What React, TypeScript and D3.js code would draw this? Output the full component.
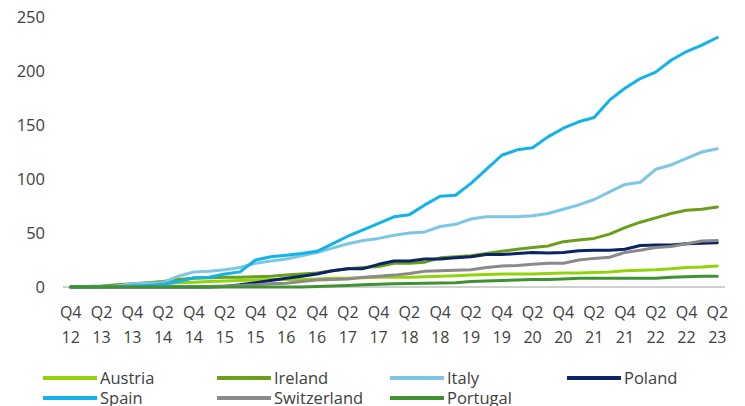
import React from "react";
import * as d3 from "d3";

const quarters = [
  "Q4 12","Q1 13","Q2 13","Q3 13","Q4 13","Q1 14","Q2 14","Q3 14","Q4 14","Q1 15","Q2 15",
  "Q3 15","Q4 15","Q1 16","Q2 16","Q3 16","Q4 16","Q1 17","Q2 17","Q3 17","Q4 17","Q1 18",
  "Q2 18","Q3 18","Q4 18","Q1 19","Q2 19","Q3 19","Q4 19","Q1 20","Q2 20","Q3 20","Q4 20",
  "Q1 21","Q2 21","Q3 21","Q4 21","Q1 22","Q2 22","Q3 22","Q4 22","Q1 23","Q2 23"
];

const austria = [0,0.3,0.5,1,1.5,2,3,4,4.5,5,5.5,6,6.5,7,7,7,7.5,8,8,8.5,9,9,9,9.5,10,10.5,11,11.5,12,12,12,12.5,13,13,13.5,14,15,15.5,16,17,18,18.5,19.5];
const ireland = [0,0.5,1,2,3,4,5,7,8,8.5,9,9,9.5,10,11,12,13,15,17,18,19,22,22,23,27,28,29,31,33,35,36.5,38,42,43.5,45,49,55,60,64,68,71,72,74];
const italy = [0,0,0.5,1,3,3.5,4,10,14,14.5,16,18,22,24,26,29,32,36,40,43,45,48,50,51,56,58,63,65,65,65,66,68,72,76,81,88,95,97,109,113,119,125,128];
const poland = [0,0,0,0,0,0,0,0,0,0,0.5,2,4,6,8,10,12,15,17,17,21,24,24,26,26,27,28,30,30,31,32,31.5,32,33.5,34,34,35,38.5,39,39,40,40.5,41];
const spain = [0,0,0.5,0.5,1,1.5,2.5,5,8.5,9,12,14,25,28,29.5,31,33,40,47,53,59,65,67,76,84,85,96,109,122,127,129,139,147,153,157,173,184,193,199,210,218,224,231];
const switzerland = [0,0,0,0,0,0,0,0,0,0.5,1,1.5,2,3,3.5,5,6.5,7,7.5,9,10,11,12.5,14.5,15,15.5,16,18,19.5,20,21,22,22,25,26.5,27.5,32,34,36.5,37.5,40,42.5,43];
const portugal = [0,0,0,0,0,0,0,0,0,0,0,0,0,0,0,0,0.5,1,1.5,2,2.5,3,3.2,3.4,3.6,4,5,5.5,6,6.5,7,7,7.5,8,8,8,8,8,8,9,9.5,10,10];

const yTicks = [0, 50, 100, 150, 200, 250];

const seriesNames = ["Austria","Ireland","Italy","Poland","Spain","Switzerland","Portugal"];
const seriesValues = [austria, ireland, italy, poland, spain, switzerland, portugal];
const seriesColors = ["#92d40c","#6a9f1a","#7cc6e6","#0a2465","#12b2ec","#8a8a8a","#3e9230"];

const legendLayout = [
  { col: 0, row: 0 }, { col: 1, row: 0 }, { col: 2, row: 0 }, { col: 3, row: 0 },
  { col: 0, row: 1 }, { col: 1, row: 1 }, { col: 2, row: 1 },
];
const legendColX = [43, 217, 390, 567];
const legendRowY = [378, 398];

export default function App() {
  const W = 745, H = 406;
  const x = d3.scalePoint<string>().domain(quarters).range([63, 725]).padding(0.5);
  const y = d3.scaleLinear().domain([0, 250]).range([287, 17]);
  const line = d3.line<number>()
    .x((_, i) => x(quarters[i]) as number)
    .y((d) => y(d));
  const font = "'Open Sans', sans-serif";
  const textColor = "#404040";

  return (
    <svg width={W} height={H} style={{ position: "absolute", left: 0, top: 0, background: "#fff" }}>
      {yTicks.map((t) => (
        <text key={t} x={45} y={y(t)} dy="0.36em" textAnchor="end" fontFamily={font} fontSize={16.5} fill={textColor}>
          {t}
        </text>
      ))}
      <line x1={63} x2={725} y1={y(0)} y2={y(0)} stroke="#c0c0c0" strokeWidth={1.5} />
      {quarters.map((q, i) => {
        if (i % 2 !== 0) return null;
        const [qq, yy] = q.split(" ");
        const cx = x(q) as number;
        return (
          <g key={q}>
            <text x={cx} y={312} dy="0.36em" textAnchor="middle" fontFamily={font} fontSize={16} fill={textColor}>{qq}</text>
            <text x={cx} y={337} dy="0.36em" textAnchor="middle" fontFamily={font} fontSize={16} fill={textColor}>{yy}</text>
          </g>
        );
      })}
      {seriesValues.map((vals, k) => (
        <path key={seriesNames[k]} d={line(vals) || ""} fill="none" stroke={seriesColors[k]} strokeWidth={3} strokeLinejoin="round" strokeLinecap="round" />
      ))}
      {seriesNames.map((name, k) => {
        const lx = legendColX[legendLayout[k].col];
        const ly = legendRowY[legendLayout[k].row];
        return (
          <g key={name}>
            <line x1={lx} x2={lx + 54} y1={ly} y2={ly} stroke={seriesColors[k]} strokeWidth={4} />
            <text x={lx + 57} y={ly} dy="0.36em" fontFamily={font} fontSize={16.5} fill={textColor}>{name}</text>
          </g>
        );
      })}
    </svg>
  );
}
